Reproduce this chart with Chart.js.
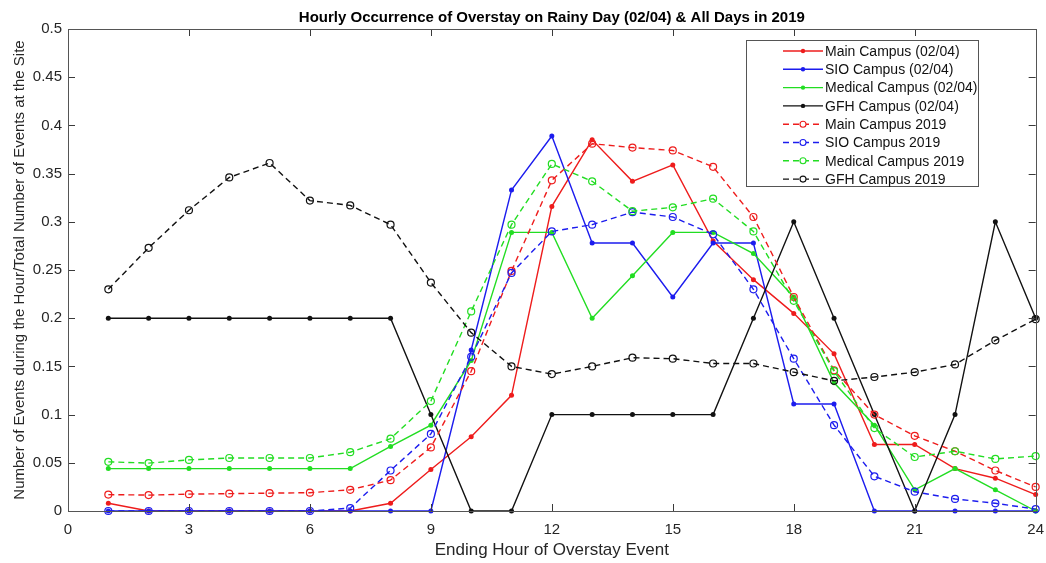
<!DOCTYPE html>
<html>
<head>
<meta charset="utf-8">
<title>Hourly Occurrence of Overstay</title>
<script src="https://cdn.jsdelivr.net/npm/chart.js@4/dist/chart.umd.min.js"></script>
<style>
  html, body { margin: 0; padding: 0; background: #fff; }
  #wrap { width: 1046px; height: 563px; }
</style>
</head>
<body>
<div id="wrap"><canvas id="overstayChart" width="1046" height="563"></canvas></div>
<script>
// ending hour of the overstay event
var hours = [1, 2, 3, 4, 5, 6, 7, 8, 9, 10, 11, 12, 13, 14, 15, 16, 17, 18, 19, 20, 21, 22, 23, 24];
var xTicks = [0, 3, 6, 9, 12, 15, 18, 21, 24];
var yTicks = [0, 0.05, 0.1, 0.15, 0.2, 0.25, 0.3, 0.35, 0.4, 0.45, 0.5];

// rainy day 02/04
var mainRainy = [0.008, 0, 0, 0, 0, 0, 0, 0.008, 0.043, 0.077, 0.12, 0.316, 0.385, 0.342, 0.359, 0.280, 0.240, 0.205, 0.163, 0.069, 0.069, 0.044, 0.034, 0.017];
var sioRainy = [0, 0, 0, 0, 0, 0, 0, 0, 0, 0.167, 0.333, 0.389, 0.278, 0.278, 0.222, 0.278, 0.278, 0.111, 0.111, 0, 0, 0, 0, 0];
var medRainy = [0.044, 0.044, 0.044, 0.044, 0.044, 0.044, 0.044, 0.067, 0.089, 0.156, 0.289, 0.289, 0.2, 0.244, 0.289, 0.289, 0.267, 0.222, 0.133, 0.089, 0.022, 0.044, 0.022, 0];
var gfhRainy = [0.2, 0.2, 0.2, 0.2, 0.2, 0.2, 0.2, 0.2, 0.1, 0, 0, 0.1, 0.1, 0.1, 0.1, 0.1, 0.2, 0.3, 0.2, 0.1, 0, 0.1, 0.3, 0.2];

// all days 2019
var main2019 = [0.017, 0.0165, 0.0175, 0.018, 0.0185, 0.019, 0.022, 0.032, 0.066, 0.145, 0.249, 0.343, 0.381, 0.377, 0.374, 0.357, 0.305, 0.222, 0.146, 0.1, 0.078, 0.062, 0.042, 0.025];
var sio2019 = [0, 0, 0, 0, 0, 0, 0.003, 0.042, 0.08, 0.16, 0.247, 0.29, 0.297, 0.31, 0.305, 0.287, 0.23, 0.158, 0.089, 0.036, 0.02, 0.0125, 0.008, 0.002];
var med2019 = [0.051, 0.0497, 0.053, 0.055, 0.055, 0.055, 0.061, 0.075, 0.114, 0.207, 0.297, 0.36, 0.342, 0.311, 0.315, 0.324, 0.29, 0.218, 0.145, 0.086, 0.056, 0.062, 0.054, 0.057];
var gfh2019 = [0.23, 0.273, 0.312, 0.346, 0.361, 0.322, 0.317, 0.297, 0.237, 0.185, 0.15, 0.142, 0.15, 0.159, 0.158, 0.153, 0.153, 0.144, 0.135, 0.139, 0.144, 0.152, 0.177, 0.199];

var RED = '#ee1c1c', BLUE = '#1c1cee', GREEN = '#22dd22', BLACK = '#111111';
var TXT = '#262626';
var FONT = "'Liberation Sans', Arial, sans-serif";

function pts(vals) {
  return hours.map(function(h, i) { return {x: h, y: vals[i]}; });
}

function solid(label, vals, color, idx) {
  return {
    label: label, data: pts(vals),
    borderColor: color, backgroundColor: color,
    borderWidth: 1.4, pointRadius: 2.5, pointBorderWidth: 0,
    pointBackgroundColor: color, clip: false, order: 10 - idx
  };
}

function dashed(label, vals, color, idx) {
  return {
    label: label, data: pts(vals),
    borderColor: color, backgroundColor: color,
    borderWidth: 1.4, borderDash: [6, 4],
    pointRadius: 3.5, pointBorderWidth: 1.2,
    pointBackgroundColor: 'rgba(255,255,255,0)', pointBorderColor: color,
    clip: false, order: 10 - idx
  };
}

var datasets = [
  solid('Main Campus (02/04)', mainRainy, RED, 0),
  solid('SIO Campus (02/04)', sioRainy, BLUE, 1),
  solid('Medical Campus (02/04)', medRainy, GREEN, 2),
  solid('GFH Campus (02/04)', gfhRainy, BLACK, 3),
  dashed('Main Campus 2019', main2019, RED, 4),
  dashed('SIO Campus 2019', sio2019, BLUE, 5),
  dashed('Medical Campus 2019', med2019, GREEN, 6),
  dashed('GFH Campus 2019', gfh2019, BLACK, 7)
];

// box around the axes plus inward ticks on all four sides
var axesBox = {
  id: 'axesBox',
  afterDatasetsDraw: function(chart) {
    var ctx = chart.ctx, a = chart.chartArea;
    var xs = chart.scales.x, ys = chart.scales.y;
    var len = 7;
    ctx.save();
    ctx.strokeStyle = '#3a3a3a';
    ctx.lineWidth = 1;
    ctx.beginPath();
    xTicks.forEach(function(t) {
      var px = Math.round(xs.getPixelForValue(t)) + 0.5;
      ctx.moveTo(px, a.bottom); ctx.lineTo(px, a.bottom - len);
      ctx.moveTo(px, a.top); ctx.lineTo(px, a.top + len);
    });
    yTicks.forEach(function(t) {
      var py = Math.round(ys.getPixelForValue(t)) + 0.5;
      ctx.moveTo(a.left, py); ctx.lineTo(a.left + len, py);
      ctx.moveTo(a.right, py); ctx.lineTo(a.right - len, py);
    });
    ctx.stroke();
    ctx.strokeStyle = '#555';
    ctx.strokeRect(Math.round(a.left) + 0.5, Math.round(a.top) + 0.5,
      Math.round(a.right - a.left), Math.round(a.bottom - a.top));
    ctx.restore();
  }
};

// legend box in the upper right corner, line sample with marker in the middle
var boxLegend = {
  id: 'boxLegend',
  afterDraw: function(chart) {
    var ctx = chart.ctx;
    var x0 = 746, y0 = 40, w = 232, h = 146;
    var rowH = 18.3, firstY = 51;
    ctx.save();
    ctx.fillStyle = '#fff';
    ctx.fillRect(x0, y0, w, h);
    ctx.strokeStyle = '#555';
    ctx.lineWidth = 1;
    ctx.strokeRect(x0 + 0.5, y0 + 0.5, w, h);
    ctx.font = '14px ' + FONT;
    ctx.textBaseline = 'middle';
    chart.data.datasets.forEach(function(ds, i) {
      var y = firstY + i * rowH;
      ctx.strokeStyle = ds.borderColor;
      ctx.lineWidth = 1.4;
      ctx.setLineDash(ds.borderDash || []);
      ctx.beginPath();
      ctx.moveTo(783, y); ctx.lineTo(823, y);
      ctx.stroke();
      ctx.setLineDash([]);
      ctx.beginPath();
      ctx.arc(803, y, ds.borderDash ? 3 : 2.2, 0, Math.PI * 2);
      if (ds.borderDash) {
        ctx.fillStyle = '#fff';
        ctx.fill();
        ctx.lineWidth = 1.1;
        ctx.stroke();
      } else {
        ctx.fillStyle = ds.borderColor;
        ctx.fill();
      }
      ctx.fillStyle = '#111';
      ctx.fillText(ds.label, 825, y + 1);
    });
    ctx.restore();
  }
};

new Chart(document.getElementById('overstayChart').getContext('2d'), {
  type: 'line',
  data: { datasets: datasets },
  plugins: [axesBox, boxLegend],
  options: {
    responsive: false,
    animation: false,
    layout: { padding: { left: 0, right: 0, top: 0, bottom: 0 } },
    plugins: {
      legend: { display: false },
      tooltip: { enabled: false },
      title: {
        display: true,
        fullSize: false,
        text: 'Hourly Occurrence of Overstay on Rainy Day (02/04) & All Days in 2019',
        color: '#000',
        font: { family: FONT, size: 15, weight: 'bold' },
        padding: { top: 9, bottom: 2 }
      }
    },
    scales: {
      x: {
        type: 'linear', min: 0, max: 24,
        afterBuildTicks: function(s) { s.ticks = xTicks.map(function(v) { return {value: v}; }); },
        afterFit: function(s) { s.height = 52; },
        grid: { display: false },
        border: { display: false },
        ticks: { color: TXT, font: { family: FONT, size: 15 }, padding: 2, maxRotation: 0 },
        title: {
          display: true, text: 'Ending Hour of Overstay Event', color: TXT,
          font: { family: FONT, size: 17 }, padding: { top: 0, bottom: 2 }
        }
      },
      y: {
        type: 'linear', min: 0, max: 0.5,
        afterBuildTicks: function(s) { s.ticks = yTicks.map(function(v) { return {value: v}; }); },
        afterFit: function(s) { s.width = 68; },
        grid: { display: false, tickLength: 0 },
        border: { display: false },
        ticks: {
          color: TXT, font: { family: FONT, size: 15 }, padding: 6,
          callback: function(v) { return String(+v.toFixed(2)); }
        },
        title: {
          display: true, text: 'Number of Events during the Hour/Total Number of Events at the Site',
          color: TXT, font: { family: FONT, size: 15 }, padding: { top: 11, bottom: 0 }
        }
      }
    }
  }
});
</script>
</body>
</html>
